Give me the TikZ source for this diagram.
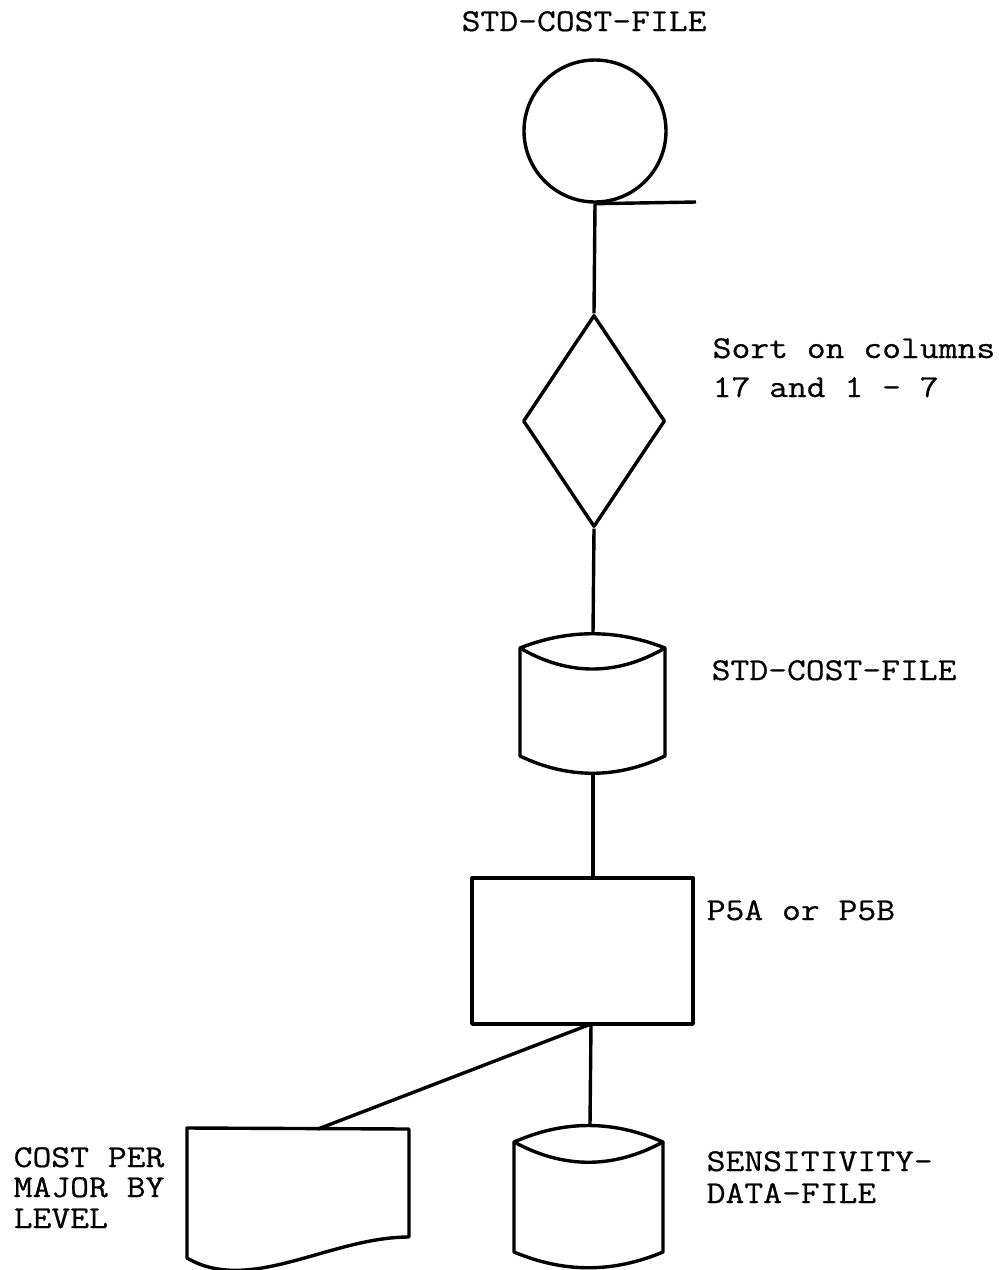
\documentclass[tikz,border=0pt]{standalone}
\usepackage{fontspec}
\newfontfamily\tw{Latin Modern Mono}[FakeStretch=1.15,FakeBold=0.6]
\usetikzlibrary{shapes.geometric}
\begin{document}
\begin{tikzpicture}[x=1pt,y=-1pt,line width=3.4pt,line join=round,
  lbl/.style={anchor=base west,inner sep=0pt,font=\tw\fontsize{31.8}{38}\selectfont},
  shp/.style={draw,inner sep=0pt}]
\useasboundingbox (0,0) rectangle (999,1270);

% tape
\node[shp,circle,minimum size=142] (tape) at (595,131) {};
\coordinate (tapeend) at (696,202);
\draw (tape.south) -- (tapeend);

% sort
\node[shp,diamond,minimum width=142,minimum height=212] (sort) at (594,421) {};

% drum 1
\coordinate (d1top) at (593,634);
\coordinate (d1bot) at (593,773);
\draw (520,648) .. controls (568,629) and (617,629) .. (665,648)
      .. controls (617,676) and (568,676) .. (520,648) -- cycle;
\draw (520,648) -- (520,756) .. controls (568,779) and (617,779) .. (665,756) -- (665,648);

% process
\node[shp,rectangle,minimum width=221,minimum height=146] (proc) at (582.5,951) {};
\coordinate (pb) at (591,1024);

% document
\coordinate (doctop) at (318,1129);
\draw (187,1258) -- (187,1128) -- (409,1129) -- (409,1237)
      .. controls (330,1237) and (250,1295) .. (187,1258) -- cycle;

% drum 2
\coordinate (d2top) at (590,1125);
\draw (514,1142) .. controls (564,1120) and (613,1120) .. (663,1142)
      .. controls (613,1169) and (564,1169) .. (514,1142) -- cycle;
\draw (514,1142) -- (514,1252) .. controls (564,1273) and (613,1273) .. (663,1252) -- (663,1142);

% connectors
\draw (tape.south) -- (sort.north);
\draw (sort.south) -- (d1top);
\draw (d1bot) -- (d1bot |- proc.north);
\draw (pb) -- (d2top);
\draw (pb) -- (doctop);

% labels
\node[lbl] (t1) at (460,31) {STD-COST-FILE};
\node[lbl] (t2a) at (711,358) {Sort on columns};
\node[lbl] (t2b) at (711,397) {17 and 1 - 7};
\node[lbl] (t3) at (710,680) {STD-COST-FILE};
\node[lbl] (t4) at (705,920) {P5A or P5B};
\node[lbl] (t5a) at (705,1171) {SENSITIVITY-};
\node[lbl] (t5b) at (705,1203) {DATA-FILE};
\node[lbl] (t6a) at (12,1167) {COST PER};
\node[lbl] (t6b) at (12,1197) {MAJOR BY};
\node[lbl] (t6c) at (12,1228) {LEVEL};
\end{tikzpicture}
\end{document}
